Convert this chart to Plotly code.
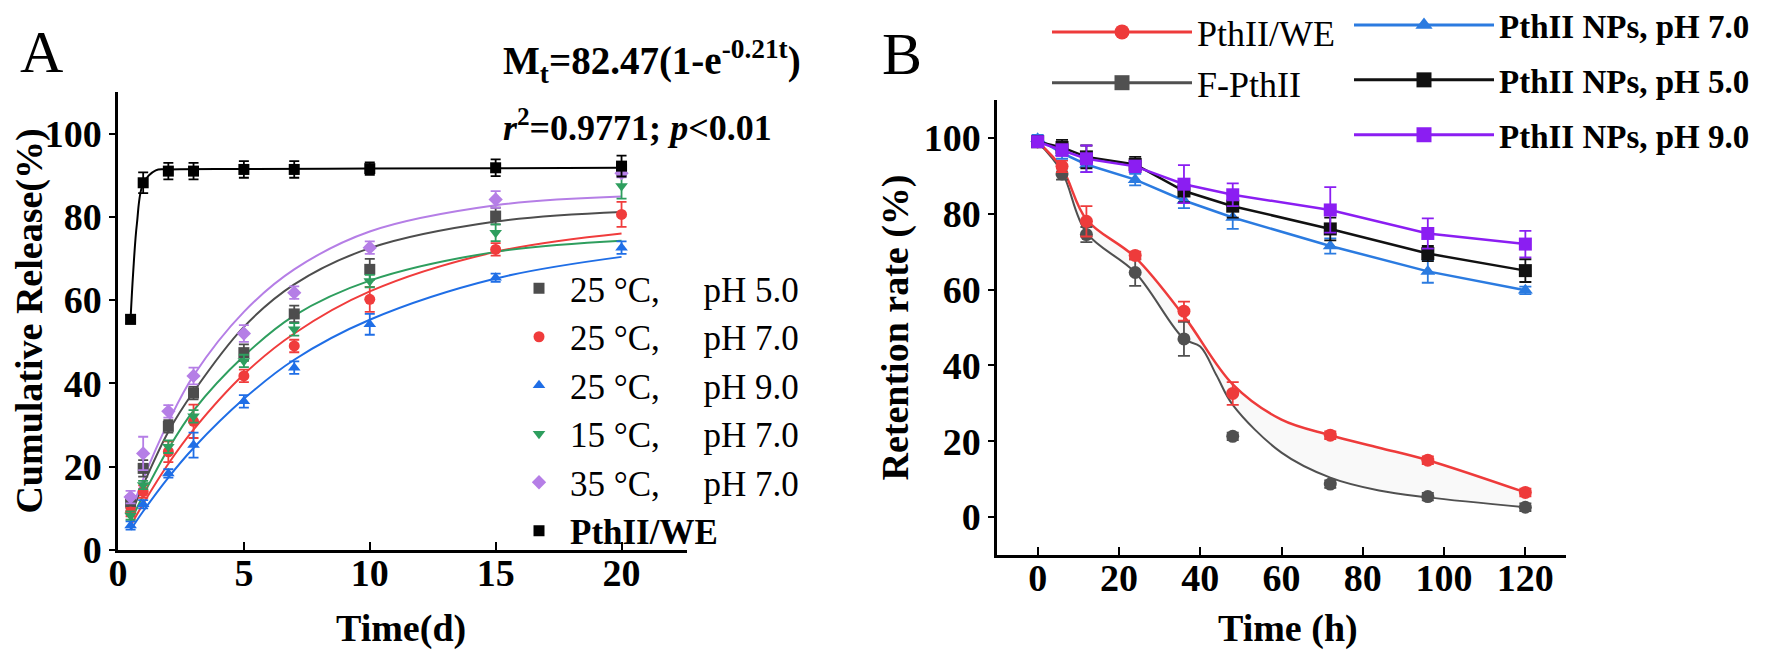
import plotly.graph_objects as go

FONT = "Liberation Serif"
SP = "\u00a0" * 5

# ---------------- Panel A data ----------------
a_time = [0.5, 1, 2, 3, 5, 7, 10, 15, 20]
a_labels = ["25 °C," + SP + "pH 5.0", "25 °C," + SP + "pH 7.0", "25 °C," + SP + "pH 9.0",
            "15 °C," + SP + "pH 7.0", "35 °C," + SP + "pH 7.0", "<b>PthII/WE</b>"]
a_25_ph5 = [11.5, 19.6, 29.7, 37.7, 47.4, 56.7, 67.4, 80.2, 91.5]
a_25_ph7 = [9.1, 14.0, 23.6, 30.9, 41.8, 49.0, 60.2, 72.2, 80.6]
a_25_ph9 = [5.9, 11.0, 18.4, 25.2, 35.7, 43.8, 54.2, 65.4, 72.6]
a_15_ph7 = [8.3, 15.6, 24.8, 32.1, 45.4, 53.0, 64.6, 76.2, 87.4]
a_35_ph7 = [12.7, 23.2, 33.3, 41.8, 52.0, 61.8, 72.6, 84.2, 90.5]
a_we = [55.4, 88.2, 91.0, 91.0, 91.4, 91.4, 91.6, 91.8, 92.2]

a_err_25_ph5 = [1.5, 2, 1.5, 1.5, 2, 2, 2.5, 2, 1.5]
a_err_25_ph7 = [1, 1.5, 2.5, 4, 1.5, 1.5, 3, 1.5, 3]
a_err_25_ph9 = [1, 1, 1, 3, 1.5, 1.5, 2.5, 1, 1.5]
a_err_15_ph7 = [1, 1, 1.5, 1.5, 1.5, 1.5, 1.5, 2, 3]
a_err_35_ph7 = [1.5, 4, 1.5, 2, 2, 1.5, 1.5, 2, 1]
a_err_we = [1, 2.5, 2, 2, 2, 2, 1.5, 2, 2.5]

# fitted curves
a_fit_time = [0.5, 1, 2, 3, 5, 7, 10, 15, 20]
a_fit_25_ph5 = [8.3, 15.6, 28.4, 38.0, 53.6, 63.8, 72.5, 78.9, 81.2]
a_fit_25_ph7 = [5.8, 11.1, 20.7, 28.9, 42.2, 52.0, 62.1, 71.6, 76.0]
a_fit_25_ph9 = [4.8, 9.3, 17.4, 24.5, 36.3, 45.7, 55.3, 65.2, 70.4]
a_fit_15_ph7 = [6.9, 13.1, 24.3, 33.5, 46.6, 56.3, 64.7, 71.6, 74.3]
a_fit_35_ph7 = [8.9, 17.0, 30.7, 41.9, 57.2, 67.4, 76.5, 82.8, 84.9]
a_fit_we_time = [0.5, 0.6, 0.75, 1, 1.5, 2, 5, 10, 15, 20]
a_fit_we = [55.5, 66.4, 78.3, 88.0, 91.2, 91.4, 91.5, 91.6, 91.7, 91.8]

a_colors = ["#4d4d4d", "#f03c3c", "#1f6ee6", "#2e9e5e", "#b57ee6", "#000000"]
a_symbols = ["square", "circle", "triangle-up", "triangle-down", "diamond", "square"]

# ---------------- Panel B data ----------------
b_time = [0, 6, 12, 24, 36, 48, 72, 96, 120]
b_labels_1 = ["PthII/WE", "F-PthII"]
b_labels_2 = ["<b>PthII NPs, pH 7.0</b>", "<b>PthII NPs, pH 5.0</b>", "<b>PthII NPs, pH 9.0</b>"]
b_we = [99.0, 92.5, 78.0, 69.0, 54.3, 32.6, 21.6, 15.0, 6.5]
b_fpth = [99.0, 90.5, 74.5, 64.5, 47.0, 21.3, 8.7, 5.4, 2.6]
b_np_ph7 = [99.8, 96.0, 93.0, 89.0, 83.5, 79.0, 71.5, 64.8, 59.8]
b_np_ph5 = [99.0, 97.5, 95.0, 93.0, 86.0, 82.0, 76.0, 69.5, 65.0]
b_np_ph9 = [99.0, 96.8, 94.5, 92.5, 87.8, 85.0, 81.0, 74.8, 72.0]

b_err_we = [1, 1.5, 4, 1, 2.5, 3, 1, 1, 1]
b_err_fpth = [1, 1.5, 2, 3.5, 4.5, 1, 1, 1, 1]
b_err_np_ph7 = [1, 1.5, 2, 1.5, 2, 3, 2, 3, 1]
b_err_np_ph5 = [1, 2, 3, 2, 3, 3, 3, 2, 3]
b_err_np_ph9 = [1, 1.5, 3.5, 1.5, 5, 3, 6, 4, 3.5]

# fitted curves (red / grey)
b_fit_time_we = [0, 6, 12, 24, 36, 48, 60, 72, 84, 96, 120]
b_fit_we = [99.0, 92.0, 78.5, 68.5, 53.0, 35.0, 25.7, 21.6, 18.3, 15.0, 6.5]
b_fit_time_fp = [0, 6, 12, 24, 36, 40, 44, 48, 60, 72, 84, 96, 120]
b_fit_fp = [99.0, 91.0, 75.0, 64.5, 47.0, 45.0, 37.4, 29.6, 17.0, 10.4, 7.0, 5.2, 2.6]

b_colors = ["#ee3b3b", "#505050", "#2b7be0", "#111111", "#8b1ef2"]

fig = go.Figure()

# ---- Panel A traces ----
a_series = [a_25_ph5, a_25_ph7, a_25_ph9, a_15_ph7, a_35_ph7, a_we]
a_errs = [a_err_25_ph5, a_err_25_ph7, a_err_25_ph9, a_err_15_ph7, a_err_35_ph7, a_err_we]
a_fits = [a_fit_25_ph5, a_fit_25_ph7, a_fit_25_ph9, a_fit_15_ph7, a_fit_35_ph7, a_fit_we]
a_fit_x = [a_fit_time] * 5 + [a_fit_we_time]

for fx, fy, col in zip(a_fit_x, a_fits, a_colors):
    fig.add_trace(go.Scatter(x=fx, y=fy, mode="lines", line=dict(color=col, width=2, shape="spline"),
                             showlegend=False, hoverinfo="skip", xaxis="x", yaxis="y"))

for i, (ys, es, col, sym, name) in enumerate(zip(a_series, a_errs, a_colors, a_symbols, a_labels)):
    fig.add_trace(go.Scatter(
        x=a_time, y=ys, mode="markers", name=name,
        marker=dict(symbol=sym, size=11, color=col),
        error_y=dict(type="data", array=es, color=col, thickness=1.8, width=5),
        legend="legend", legendgroup=f"a{i}", xaxis="x", yaxis="y"))

# ---- Panel B traces ----
fig.add_trace(go.Scatter(x=b_fit_time_fp, y=b_fit_fp, mode="lines",
                         line=dict(color=b_colors[1], width=2, shape="spline"),
                         showlegend=False, hoverinfo="skip", xaxis="x2", yaxis="y2"))
fig.add_trace(go.Scatter(x=b_fit_time_we, y=b_fit_we, mode="lines",
                         line=dict(color=b_colors[0], width=2.5, shape="spline"),
                         fill="tonexty", fillcolor="rgba(150,150,150,0.06)",
                         showlegend=False, hoverinfo="skip", xaxis="x2", yaxis="y2"))

for ys, es, col, sym in [(b_fpth, b_err_fpth, b_colors[1], "circle"), (b_we, b_err_we, b_colors[0], "circle")]:
    fig.add_trace(go.Scatter(x=b_time, y=ys, mode="markers",
                             marker=dict(symbol=sym, size=13, color=col),
                             error_y=dict(type="data", array=es, color=col, thickness=1.8, width=6),
                             showlegend=False, xaxis="x2", yaxis="y2"))

for ys, es, col, sym in [(b_np_ph7, b_err_np_ph7, b_colors[2], "triangle-up"),
                         (b_np_ph5, b_err_np_ph5, b_colors[3], "square"),
                         (b_np_ph9, b_err_np_ph9, b_colors[4], "square")]:
    fig.add_trace(go.Scatter(x=b_time, y=ys, mode="lines+markers",
                             line=dict(color=col, width=2.5),
                             marker=dict(symbol=sym, size=13, color=col),
                             error_y=dict(type="data", array=es, color=col, thickness=1.8, width=6),
                             showlegend=False, xaxis="x2", yaxis="y2"))

# legend-only entries for panel B
for i, (name, col, sym) in enumerate(zip(b_labels_1, b_colors[:2], ["circle", "square"])):
    fig.add_trace(go.Scatter(x=[None], y=[None], mode="lines+markers", name=name,
                             line=dict(color=col, width=3), marker=dict(symbol=sym, size=15, color=col),
                             legend="legend2", legendgroup=f"b1{i}", xaxis="x2", yaxis="y2"))
for i, (name, col, sym) in enumerate(zip(b_labels_2, b_colors[2:], ["triangle-up", "square", "square"])):
    fig.add_trace(go.Scatter(x=[None], y=[None], mode="lines+markers", name=name,
                             line=dict(color=col, width=3), marker=dict(symbol=sym, size=15, color=col),
                             legend="legend3", legendgroup=f"b2{i}", xaxis="x2", yaxis="y2"))

W, H = 1769, 656
def px(x):
    return x / W
def py(y):
    return 1 - y / H

tickfont = dict(family=FONT, size=38, color="black", weight="bold")
titlefont = dict(family=FONT, size=38, color="black", weight="bold")

axis_common = dict(showline=True, linecolor="black", showgrid=False, zeroline=False,
                   tickcolor="black", tickwidth=2, tickfont=tickfont)

def ann(text, x, y, size, bold=False, angle=0, xanchor="center"):
    f = dict(family=FONT, size=size, color="black")
    if bold:
        f["weight"] = "bold"
    return dict(text=text, x=px(x), y=py(y), xref="paper", yref="paper", showarrow=False,
                xanchor=xanchor, yanchor="middle", textangle=angle, font=f)

fig.update_layout(
    width=W, height=H, margin=dict(l=0, r=0, t=0, b=0, autoexpand=False),
    paper_bgcolor="white", plot_bgcolor="white",
    xaxis=dict(domain=[px(110), px(679)], range=[0, 22.6], anchor="y",
               tickvals=[0, 5, 10, 15, 20], ticks="inside", ticklen=8, linewidth=3,
               ticklabelstandoff=-13, **axis_common),
    yaxis=dict(domain=[py(542), py(84)], range=[0, 110], anchor="x",
               tickvals=[0, 20, 40, 60, 80, 100], ticks="outside", ticklen=6, linewidth=2.5,
               title=dict(text="Cumulative Release(%)", font=titlefont, standoff=4), **axis_common),
    xaxis2=dict(domain=[px(989), px(1558)], range=[-10, 130], anchor="y2",
                tickvals=[0, 20, 40, 60, 80, 100, 120], ticks="inside", ticklen=8, linewidth=3,
                ticklabelstandoff=-13, **axis_common),
    yaxis2=dict(domain=[py(547), py(92)], range=[-10, 110], anchor="x2",
                tickvals=[0, 20, 40, 60, 80, 100], ticks="outside", ticklen=6, linewidth=2.5,
                title=dict(text="Retention rate (%)", font=titlefont, standoff=4), **axis_common),
    legend=dict(x=px(500), y=py(251), xanchor="left", yanchor="top",
                font=dict(family=FONT, size=35, color="black"),
                bgcolor="rgba(0,0,0,0)", itemwidth=52, traceorder="grouped", tracegroupgap=0),
    legend2=dict(x=px(1039), y=py(-6), xanchor="left", yanchor="top",
                 font=dict(family=FONT, size=36, color="black"),
                 bgcolor="rgba(0,0,0,0)", itemwidth=140, traceorder="grouped", tracegroupgap=1),
    legend3=dict(x=px(1341), y=py(-11), xanchor="left", yanchor="top",
                 font=dict(family=FONT, size=33, color="black"),
                 bgcolor="rgba(0,0,0,0)", itemwidth=140, traceorder="grouped", tracegroupgap=9),
    annotations=[
        ann("A", 33, 44, 60),
        ann("B", 894, 46, 60),
        ann("M<sub>t</sub>=82.47(1-e<sup>-0.21t</sup>)", 493, 54, 39, bold=True, xanchor="left"),
        ann("<i>r</i><sup>2</sup>=0.9771; <i>p</i><0.01", 493, 117, 36, bold=True, xanchor="left"),
        ann("Time(d)", 393, 620, 38, bold=True),
        ann("Time (h)", 1280, 620, 38, bold=True),
    ],
)

fig.write_html("out.html")
